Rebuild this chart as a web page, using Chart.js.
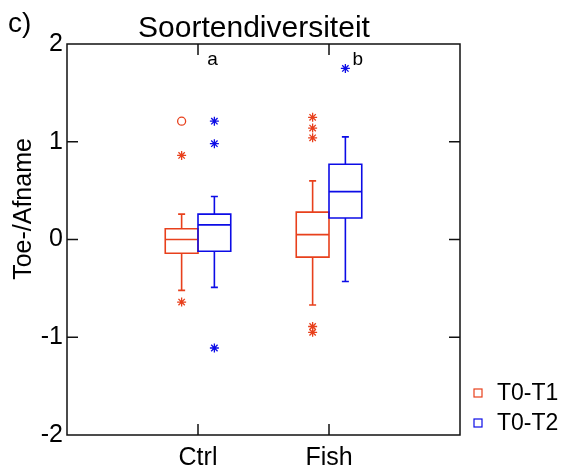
<!DOCTYPE html>
<html>
<head>
<meta charset="utf-8">
<script src="https://cdn.jsdelivr.net/npm/chart.js@4.4.1/dist/chart.umd.min.js"></script>
<style>
  html, body { margin:0; padding:0; background:#fff; }
</style>
</head>
<body>
<canvas id="chart" width="570" height="471"></canvas>
<script>
// boxplot - Soortendiversiteit, T0-T1 vs T0-T2 per treatment
const FONT = '"Liberation Sans", Arial, Helvetica, sans-serif';

const groups = ['Ctrl', 'Fish'];
const seriesNames = ['T0-T1', 'T0-T2'];
const seriesColors = ['#e8401c', '#0c0ce6'];
const yTicks = [-2, -1, 0, 1, 2];

// box stats, one value per group (Ctrl, Fish)
const t1Low  = [-0.52, -0.67];
const t1Q1   = [-0.14, -0.18];
const t1Med  = [ 0.00,  0.05];
const t1Q3   = [ 0.11,  0.28];
const t1High = [ 0.26,  0.60];

const t2Low  = [-0.49, -0.43];
const t2Q1   = [-0.12,  0.22];
const t2Med  = [ 0.15,  0.49];
const t2Q3   = [ 0.26,  0.77];
const t2High = [ 0.44,  1.05];

// outliers as [group index, value]
const t1Stars   = [[0, 0.86], [0, -0.64], [1, 1.25], [1, 1.14], [1, 1.04], [1, -0.89], [1, -0.95]];
const t1Circles = [[0, 1.21]];
const t2Stars   = [[0, 1.21], [0, 0.98], [0, -1.11], [1, 1.75]];

// significance letters above each group
const letters = ['a', 'b'];

const boxes = [
  { low:t1Low, q1:t1Q1, med:t1Med, q3:t1Q3, high:t1High },
  { low:t2Low, q1:t2Q1, med:t2Med, q3:t2Q3, high:t2High }
];

const BOX_W = 0.25;
const SHIFT = [-0.125, 0.125];

function toPoints(list, s){
  return list.map(([g, v]) => ({ x: g + 1 + SHIFT[s], y: v }));
}

const boxPlugin = {
  id: 'boxPlugin',
  beforeDatasetsDraw(chart){
    const { ctx, scales:{ x, y } } = chart;
    ctx.save();
    ctx.lineWidth = 1.6;
    boxes.forEach((b, s) => {
      ctx.strokeStyle = seriesColors[s];
      groups.forEach((g, i) => {
        const c = i + 1 + SHIFT[s];
        const xl = x.getPixelForValue(c - BOX_W / 2);
        const xr = x.getPixelForValue(c + BOX_W / 2);
        const xc = x.getPixelForValue(c);
        const cap = 3.5;
        const yq1 = y.getPixelForValue(b.q1[i]);
        const yq3 = y.getPixelForValue(b.q3[i]);
        const ylo = y.getPixelForValue(b.low[i]);
        const yhi = y.getPixelForValue(b.high[i]);
        const ymd = y.getPixelForValue(b.med[i]);
        ctx.beginPath();
        ctx.rect(xl, yq3, xr - xl, yq1 - yq3);
        ctx.moveTo(xl, ymd); ctx.lineTo(xr, ymd);
        ctx.moveTo(xc, yq3); ctx.lineTo(xc, yhi);
        ctx.moveTo(xc - cap, yhi); ctx.lineTo(xc + cap, yhi);
        ctx.moveTo(xc, yq1); ctx.lineTo(xc, ylo);
        ctx.moveTo(xc - cap, ylo); ctx.lineTo(xc + cap, ylo);
        ctx.stroke();
      });
    });
    ctx.restore();
  },
  afterDraw(chart){
    const { ctx, chartArea:a, scales:{ x, y } } = chart;
    ctx.save();
    // frame with inward ticks
    ctx.strokeStyle = '#111';
    ctx.lineWidth = 1.5;
    ctx.strokeRect(a.left, a.top, a.right - a.left, a.bottom - a.top);
    const tl = 11;
    ctx.beginPath();
    y.ticks.forEach(t => {
      if (t.value <= y.min || t.value >= y.max) return;
      const py = y.getPixelForValue(t.value);
      ctx.moveTo(a.left, py); ctx.lineTo(a.left + tl, py);
      ctx.moveTo(a.right, py); ctx.lineTo(a.right - tl, py);
    });
    x.ticks.forEach(t => {
      const px = x.getPixelForValue(t.value);
      ctx.moveTo(px, a.top); ctx.lineTo(px, a.top + tl);
      ctx.moveTo(px, a.bottom); ctx.lineTo(px, a.bottom - tl);
    });
    ctx.stroke();

    ctx.fillStyle = '#000';
    // panel tag and title
    ctx.textBaseline = 'alphabetic';
    ctx.textAlign = 'left';
    ctx.font = '28px ' + FONT;
    ctx.fillText('c)', 8, 32);
    ctx.textAlign = 'center';
    ctx.font = '30px ' + FONT;
    ctx.fillText('Soortendiversiteit', 254, 37);

    // letters
    ctx.font = '19px ' + FONT;
    letters.forEach((l, i) => {
      ctx.fillText(l, x.getPixelForValue(i + 1 + (i === 0 ? 0.11 : 0.22)), y.getPixelForValue(1.79));
    });

    // y axis title
    ctx.save();
    ctx.translate(24, 209);
    ctx.rotate(-Math.PI / 2);
    ctx.textBaseline = 'middle';
    ctx.font = '25px ' + FONT;
    ctx.fillText('Toe-/Afname', 0, 0);
    ctx.restore();

    // legend
    ctx.textAlign = 'left';
    ctx.textBaseline = 'middle';
    ctx.font = '23px ' + FONT;
    ctx.lineWidth = 1.2;
    seriesNames.forEach((n, s) => {
      const cy = 393 + s * 30;
      ctx.strokeStyle = seriesColors[s];
      ctx.strokeRect(474, cy - 4, 8, 8);
      ctx.fillStyle = '#000';
      ctx.fillText(n, 497, cy + 1);
    });
    ctx.restore();
  }
};

const ctx = document.getElementById('chart').getContext('2d');
new Chart(ctx, {
  type: 'scatter',
  data: {
    datasets: [
      { label: seriesNames[0], data: toPoints(t1Stars, 0), pointStyle: 'star', pointRadius: 4.5,
        borderColor: seriesColors[0], backgroundColor: seriesColors[0], borderWidth: 1.3 },
      { label: seriesNames[0], data: toPoints(t1Circles, 0), pointStyle: 'circle', pointRadius: 4,
        borderColor: seriesColors[0], backgroundColor: 'rgba(0,0,0,0)', borderWidth: 1.3 },
      { label: seriesNames[1], data: toPoints(t2Stars, 1), pointStyle: 'star', pointRadius: 4.5,
        borderColor: seriesColors[1], backgroundColor: seriesColors[1], borderWidth: 1.3 }
    ]
  },
  options: {
    responsive: false,
    animation: false,
    devicePixelRatio: 1,
    layout: { padding: { top: 44, right: 110, left: 0, bottom: 0 } },
    plugins: { legend: { display: false }, tooltip: { enabled: false } },
    scales: {
      x: {
        type: 'linear', min: 0, max: 3,
        afterBuildTicks: s => { s.ticks = [1, 2].map(v => ({ value: v })); },
        afterFit: s => { s.height = 36; },
        ticks: { callback: v => groups[v - 1], color: '#000', padding: 8, maxRotation: 0, autoSkip: false,
                 font: { size: 25, family: FONT } },
        grid: { display: false, drawTicks: false },
        border: { display: false }
      },
      y: {
        min: -2, max: 2,
        afterBuildTicks: s => { s.ticks = yTicks.map(v => ({ value: v })); },
        afterFit: s => { s.width = 67; },
        ticks: { color: '#000', padding: 4, font: { size: 25, family: FONT } },
        grid: { display: false, drawTicks: false },
        border: { display: false }
      }
    }
  },
  plugins: [boxPlugin]
});
</script>
</body>
</html>
